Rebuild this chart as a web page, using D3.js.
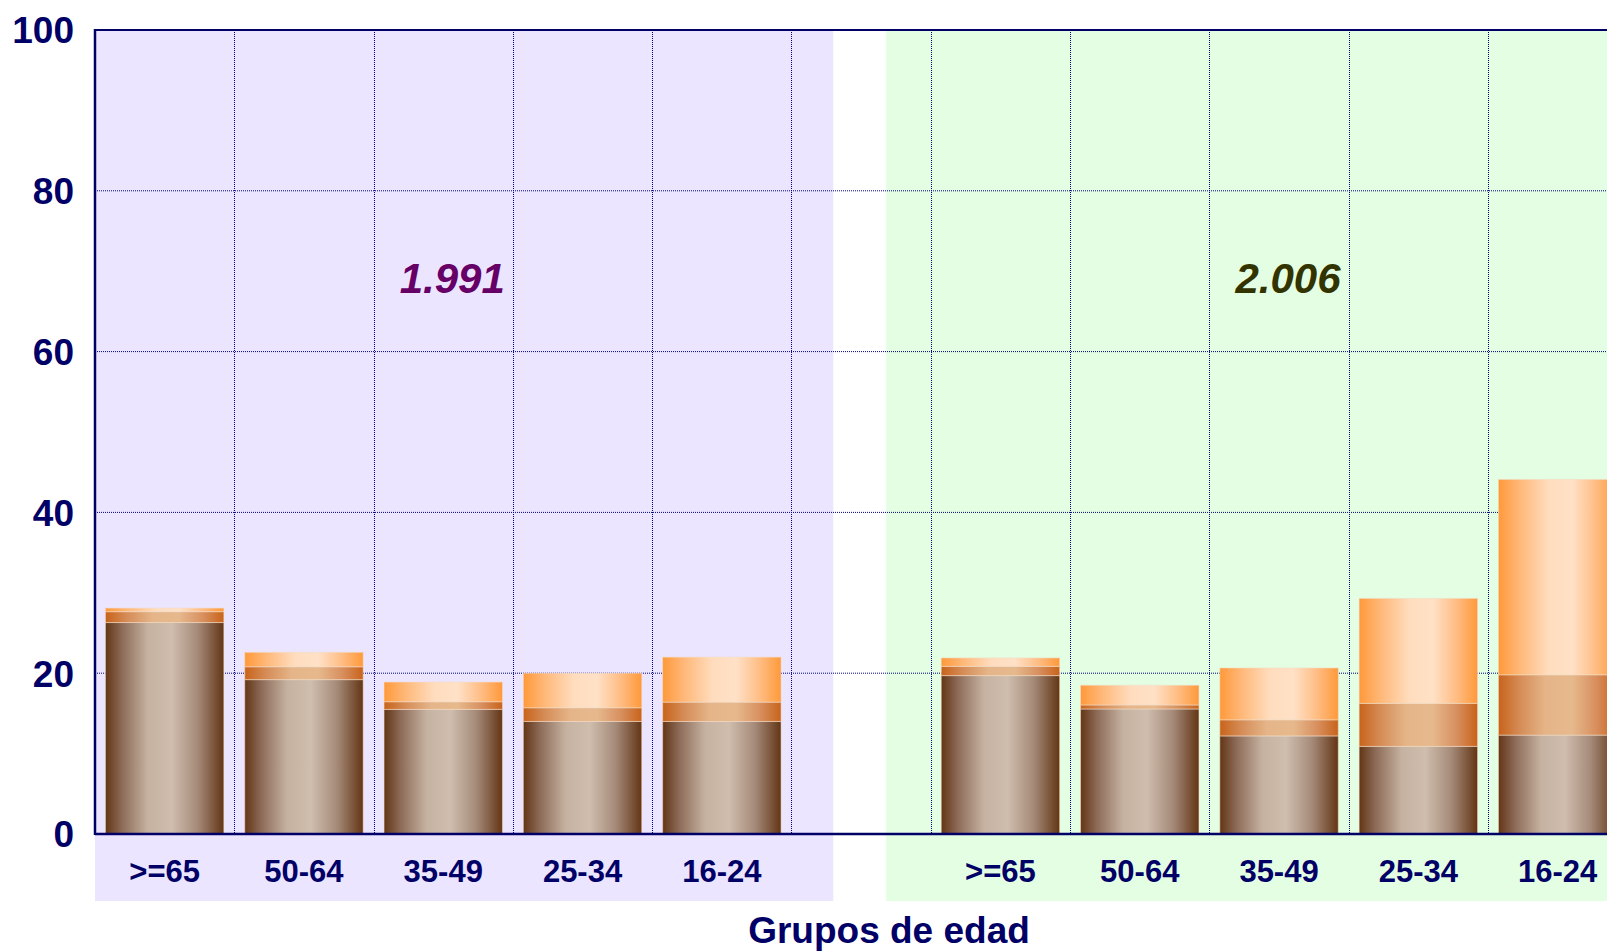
<!DOCTYPE html>
<html>
<head>
<meta charset="utf-8">
<script src="https://cdn.jsdelivr.net/npm/d3@7"></script>
<style>
body { margin: 0; background: #fff; overflow: hidden; }
#chart svg { display: block; font-family: "Liberation Sans", Arial, Helvetica, sans-serif; }
</style>
</head>
<body>
<div id="chart"></div>
<script>
// year groups and age groups (x axis)
var years = ["1.991", "2.006"];
var ageGroups = [">=65", "50-64", "35-49", "25-34", "16-24"];
var yTicks = [0, 20, 40, 60, 80, 100];

// segment sizes, bottom (brown) -> middle (dark orange) -> top (light orange)
var base1991 = [26.3, 19.2, 15.5, 14.0, 14.0];
var mid1991  = [1.35, 1.6, 0.95, 1.7, 2.4];
var top1991  = [0.45, 1.8, 2.45, 4.3, 5.6];
var base2006 = [19.7, 15.55, 12.2, 10.9, 12.3];
var mid2006  = [1.15, 0.5, 2.0, 5.35, 7.5];
var top2006  = [1.05, 2.45, 6.45, 13.05, 24.3];

(function () {

var width = 1607, height = 952;
var navy = "#000066";

// build rows, one gap slot between the two years
var rows = [];
ageGroups.forEach(function(a, i) {
  rows.push({key: "1991|" + a, age: a, base: base1991[i], mid: mid1991[i], top: top1991[i]});
});
var gapKey = "gap";
ageGroups.forEach(function(a, i) {
  rows.push({key: "2006|" + a, age: a, base: base2006[i], mid: mid2006[i], top: top2006[i]});
});
var slots = rows.slice(0, 5).map(function(d) { return d.key; })
  .concat([gapKey])
  .concat(rows.slice(5).map(function(d) { return d.key; }));

var series = d3.stack().keys(["base", "mid", "top"])(rows);

var x = d3.scaleBand()
  .domain(slots)
  .range([95, 1627.3])
  .paddingInner(0.15)
  .paddingOuter(0.075);
var step = x.step();
var x0 = x.range()[0];

var y = d3.scaleLinear().domain([0, 100]).range([834, 30]);

var svg = d3.select("#chart")
  .append("svg")
  .attr("width", width)
  .attr("height", height);

// gradients for the cylinder look
var defs = svg.append("defs");
var grads = {
  base: [["0%", "#633515"], ["14%", "#8d6b58"], ["36%", "#c6b2a1"], ["56%", "#cfbdad"], ["78%", "#a58a79"], ["100%", "#633515"]],
  mid:  [["0%", "#c8631a"], ["18%", "#d58c57"], ["40%", "#e5b589"], ["62%", "#e6b98d"], ["82%", "#d89060"], ["100%", "#c8631a"]],
  top:  [["0%", "#ff993a"], ["18%", "#ffb878"], ["42%", "#ffdcbd"], ["62%", "#ffe1c7"], ["82%", "#ffbd84"], ["100%", "#ff993a"]]
};
Object.keys(grads).forEach(function(k) {
  var g = defs.append("linearGradient").attr("id", "grad-" + k)
    .attr("x1", 0).attr("x2", 1).attr("y1", 0).attr("y2", 0);
  grads[k].forEach(function(s) {
    g.append("stop").attr("offset", s[0]).attr("stop-color", s[1]);
  });
});

// panel backgrounds
var gapStart = x0 + 5 * step;
svg.append("rect")
  .attr("x", x0).attr("y", y(100))
  .attr("width", gapStart + step * 0.3 - x0)
  .attr("height", 901 - y(100))
  .attr("fill", "#ebe5ff");
svg.append("rect")
  .attr("x", gapStart + step * 0.68).attr("y", y(100))
  .attr("width", x.range()[1] - (gapStart + step * 0.68))
  .attr("height", 901 - y(100))
  .attr("fill", "#e3fee3");

// grid
var grid = svg.append("g").attr("class", "grid");
grid.selectAll(".hgrid")
  .data(yTicks.filter(function(d) { return d > 0 && d < 100; }))
  .enter().append("line")
  .attr("x1", x0).attr("x2", x.range()[1])
  .attr("y1", function(d) { return y(d); })
  .attr("y2", function(d) { return y(d); })
  .attr("stroke", "#000080")
  .attr("stroke-width", 1)
  .attr("stroke-dasharray", "1,1");
grid.selectAll(".vgrid")
  .data(d3.range(1, slots.length))
  .enter().append("line")
  .attr("x1", function(k) { return Math.round(x0 + k * step) + 0.5; })
  .attr("x2", function(k) { return Math.round(x0 + k * step) + 0.5; })
  .attr("y1", y(100)).attr("y2", y(0))
  .attr("stroke", "#000080")
  .attr("stroke-width", 1)
  .attr("stroke-dasharray", "1,1");

// stacked bars
var layers = svg.selectAll(".layer")
  .data(series)
  .enter().append("g")
  .attr("class", "layer")
  .attr("fill", function(d) { return "url(#grad-" + d.key + ")"; });

layers.selectAll("rect")
  .data(function(d) { return d; })
  .enter().append("rect")
  .attr("x", function(d) { return x(d.data.key); })
  .attr("width", x.bandwidth())
  .attr("y", function(d) { return y(d[1]); })
  .attr("height", function(d) { return y(d[0]) - y(d[1]); })
  .attr("stroke", "#f3dcc6")
  .attr("stroke-opacity", 0.55)
  .attr("stroke-width", 1);

// frame / axes
svg.append("line")
  .attr("x1", x0).attr("x2", x.range()[1])
  .attr("y1", y(100)).attr("y2", y(100))
  .attr("stroke", navy).attr("stroke-width", 2);
svg.append("line")
  .attr("x1", x0).attr("x2", x0)
  .attr("y1", y(100) - 1).attr("y2", y(0) + 1)
  .attr("stroke", navy).attr("stroke-width", 2.5);
svg.append("line")
  .attr("x1", x0).attr("x2", x.range()[1])
  .attr("y1", y(0)).attr("y2", y(0))
  .attr("stroke", navy).attr("stroke-width", 2.5);

// y tick labels
svg.selectAll(".ytick")
  .data(yTicks)
  .enter().append("text")
  .attr("class", "ytick")
  .attr("x", 74)
  .attr("y", function(d) { return y(d); })
  .attr("dy", "0.36em")
  .attr("text-anchor", "end")
  .attr("font-size", 37)
  .attr("font-weight", "bold")
  .attr("fill", navy)
  .text(function(d) { return d; });

// category labels
svg.selectAll(".xlabel")
  .data(rows)
  .enter().append("text")
  .attr("class", "xlabel")
  .attr("x", function(d) { return x(d.key) + x.bandwidth() / 2; })
  .attr("y", 882)
  .attr("text-anchor", "middle")
  .attr("font-size", 31)
  .attr("font-weight", "bold")
  .attr("fill", navy)
  .text(function(d) { return d.age; });

// year labels
var yearColors = ["#660066", "#333300"];
svg.selectAll(".year")
  .data(years)
  .enter().append("text")
  .attr("class", "year")
  .attr("x", function(d, i) { return x0 + (i * 6 + 2.5) * step + 9; })
  .attr("y", 293)
  .attr("text-anchor", "middle")
  .attr("font-size", 42)
  .attr("font-weight", "bold")
  .attr("font-style", "italic")
  .attr("fill", function(d, i) { return yearColors[i]; })
  .text(function(d) { return d; });

// axis title
svg.append("text")
  .attr("x", 889)
  .attr("y", 943)
  .attr("text-anchor", "middle")
  .attr("font-size", 37)
  .attr("font-weight", "bold")
  .attr("fill", navy)
  .text("Grupos de edad");

})();
</script>
</body>
</html>
